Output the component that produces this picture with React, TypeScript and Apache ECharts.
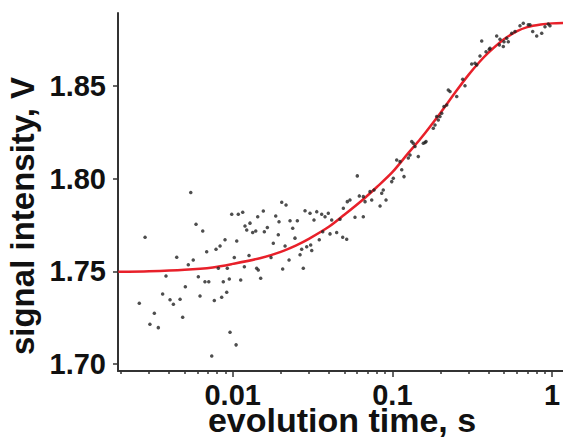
import React, { useEffect, useRef } from "react";
import * as echarts from "echarts";

// evolution time (s) and signal (V) of the measured points
const scatterTime = [
  0.002825, 0.0026, 0.00323, 0.00303, 0.00342, 0.00382, 0.00364, 0.00405, 0.00425, 0.00468,
  0.00486, 0.00446, 0.00505, 0.00527, 0.00566, 0.00546, 0.00589, 0.00649, 0.00609, 0.00624,
  0.0067, 0.00708, 0.00687, 0.00786, 0.00833, 0.00895, 0.00813, 0.00767, 0.00853, 0.00917,
  0.00873, 0.00925, 0.00952, 0.00962, 0.0105, 0.00739, 0.00986, 0.01084, 0.01155, 0.0106,
  0.01023, 0.01122, 0.01183, 0.01194, 0.01224, 0.01283, 0.01334, 0.01394, 0.01265, 0.01413,
  0.01446, 0.01497, 0.01434, 0.01555, 0.01578, 0.01648, 0.01738, 0.01796, 0.0186, 0.0195,
  0.0193, 0.02028, 0.02158, 0.02056, 0.02128, 0.02254, 0.02286, 0.02376, 0.0254, 0.02455,
  0.02641, 0.02704, 0.02768, 0.02838, 0.0305, 0.03079, 0.03126, 0.03229, 0.0336, 0.03485,
  0.03609, 0.03787, 0.0397, 0.04069, 0.04169, 0.04479, 0.04699, 0.04887, 0.05177, 0.05222,
  0.05426, 0.05834, 0.06032, 0.06209, 0.02907, 0.03664, 0.04932, 0.06577, 0.06745, 0.07244,
  0.07426, 0.07674, 0.08375, 0.08576, 0.09125, 0.1014, 0.0991, 0.1065, 0.1117, 0.1183,
  0.1145, 0.129, 0.1353, 0.1454, 0.1386, 0.1563, 0.1625, 0.1805, 0.185, 0.1988,
  0.2038, 0.2106, 0.219, 0.194, 0.2241, 0.253, 0.2851, 0.2758, 0.3141, 0.3374,
  0.354, 0.3861, 0.4048, 0.3628, 0.4503, 0.4723, 0.5003, 0.5203, 0.468, 0.5594,
  0.5863, 0.6302, 0.661, 0.7103, 0.757, 0.8021, 0.8621, 0.904, 0.948, 0.971,
  0.1259, 0.1322, 0.1602, 0.0877, 0.0658, 0.1896, 0.2297, 0.4955, 0.5324, 0.728,
  0.409, 0.3294,
];
const scatterSignal = [
  1.7684, 1.7328, 1.7274, 1.7214, 1.7196, 1.7475, 1.7378, 1.7346, 1.7322, 1.7349,
  1.7252, 1.7576, 1.7417, 1.7535, 1.7561, 1.7925, 1.7754, 1.7718, 1.7471, 1.7367,
  1.7444, 1.7444, 1.7606, 1.7619, 1.7637, 1.767, 1.7517, 1.7342, 1.736, 1.7387,
  1.7444, 1.7517, 1.7459, 1.7171, 1.7103, 1.7043, 1.7808, 1.7808, 1.7819, 1.7664,
  1.7574, 1.7453, 1.7525, 1.7745, 1.7723, 1.776, 1.7709, 1.7718, 1.7585, 1.7517,
  1.7507, 1.7463, 1.7795, 1.7826, 1.7714, 1.7736, 1.7574, 1.7651, 1.7799, 1.7768,
  1.7697, 1.7873, 1.7858, 1.7513, 1.7637, 1.7561, 1.7773, 1.7732, 1.7773, 1.7679,
  1.7589, 1.7619, 1.7517, 1.7827, 1.7813, 1.7642, 1.7612, 1.7777, 1.7822, 1.767,
  1.7808, 1.7795, 1.7813, 1.7702, 1.7777, 1.7709, 1.7781, 1.7684, 1.7673, 1.7876,
  1.7885, 1.7792, 1.8015, 1.7907, 1.7633, 1.7714, 1.784, 1.7795, 1.7876, 1.793,
  1.7885, 1.7939, 1.7853, 1.7921, 1.7885, 1.8002, 1.7984, 1.8101, 1.8092, 1.8011,
  1.8048, 1.8128, 1.8191, 1.8119, 1.8173, 1.8191, 1.82, 1.8272, 1.829, 1.8335,
  1.8353, 1.8389, 1.8398, 1.8317, 1.8479, 1.8443, 1.8501, 1.8537, 1.8619, 1.8614,
  1.8662, 1.8685, 1.8698, 1.8743, 1.877, 1.8752, 1.8739, 1.8758, 1.8722, 1.8785,
  1.8794, 1.8825, 1.8839, 1.883, 1.8794, 1.877, 1.8785, 1.882, 1.8835, 1.8825,
  1.8111, 1.82, 1.8195, 1.7939, 1.7903, 1.8335, 1.847, 1.8713, 1.8739, 1.883,
  1.8704, 1.8623,
];

// fitted curve
const fitTime = [
  0.00192, 0.003, 0.005, 0.0075, 0.01, 0.015, 0.02, 0.025, 0.03, 0.04,
  0.05, 0.065, 0.08, 0.1, 0.125, 0.15, 0.2, 0.25, 0.3, 0.35,
  0.4, 0.5, 0.6, 0.7, 0.85, 1.0, 1.172,
];
const fitSignal = [
  1.7497, 1.75, 1.7508, 1.7521, 1.754, 1.7572, 1.7605, 1.764, 1.7675, 1.774,
  1.7805, 1.7885, 1.7955, 1.8035, 1.8135, 1.8215, 1.8355, 1.847, 1.856, 1.8628,
  1.868, 1.8752, 1.8795, 1.8818, 1.8832, 1.8838, 1.884,
];

const xMajorTicks = [0.01, 0.1, 1];
const xMinorTicks = [
  0.002, 0.003, 0.004, 0.005, 0.006, 0.007, 0.008, 0.009,
  0.02, 0.03, 0.04, 0.05, 0.06, 0.07, 0.08, 0.09,
  0.2, 0.3, 0.4, 0.5, 0.6, 0.7, 0.8, 0.9,
];
const yTicks = [1.7, 1.75, 1.8, 1.85];
const xRange = [0.001912, 1.172];
const yRange = [1.6962, 1.8894];

const xTitle = "evolution time, s";
const yTitle = "signal intensity, V";

export default function App() {
  const ref = useRef<HTMLDivElement>(null);
  useEffect(() => {
    document.body.style.margin = "0";
    const chart = echarts.init(ref.current!, null, { renderer: "svg" });
    const lg = (v: number) => Math.log10(v);
    const font = "'Liberation Sans', Arial, Helvetica, sans-serif";
    const axisColor = "#333";
    const labelStyle = {
      color: "#111",
      fontSize: 29,
      fontWeight: "bold" as const,
      fontFamily: font,
    };
    chart.setOption({
      animation: false,
      backgroundColor: "#ffffff",
      grid: {
        left: 118,
        top: 13,
        right: 0,
        bottom: 68,
        containLabel: false,
        outerBoundsMode: "none",
      },
      xAxis: [
        {
          type: "value",
          min: lg(xRange[0]),
          max: lg(xRange[1]),
          position: "bottom",
          axisLine: { show: true, onZero: false, lineStyle: { color: axisColor, width: 2 } },
          axisTick: {
            show: true,
            customValues: xMajorTicks.map(lg),
            length: 6,
            lineStyle: { color: axisColor, width: 1.5 },
          },
          axisLabel: {
            ...labelStyle,
            customValues: xMajorTicks.map(lg),
            margin: 9,
            formatter: (v: number) => String(Number(Math.pow(10, v).toPrecision(3))),
          },
          splitLine: { show: false },
        },
        {
          type: "value",
          min: lg(xRange[0]),
          max: lg(xRange[1]),
          position: "bottom",
          axisLine: { show: false, onZero: false },
          axisTick: {
            show: true,
            customValues: xMinorTicks.map(lg),
            length: 3,
            lineStyle: { color: axisColor, width: 1.5 },
          },
          axisLabel: { show: false },
          splitLine: { show: false },
        },
      ],
      yAxis: {
        type: "value",
        min: yRange[0],
        max: yRange[1],
        axisLine: { show: true, onZero: false, lineStyle: { color: axisColor, width: 2 } },
        axisTick: {
          show: true,
          customValues: yTicks,
          length: 5,
          lineStyle: { color: axisColor, width: 1.5 },
        },
        axisLabel: {
          ...labelStyle,
          customValues: yTicks,
          margin: 12,
          formatter: (v: number) => v.toFixed(2),
        },
        splitLine: { show: false },
      },
      series: [
        {
          type: "line",
          data: fitTime.map((t, i) => [lg(t), fitSignal[i]]),
          smooth: 0.3,
          showSymbol: false,
          lineStyle: { color: "#e8202a", width: 2.5 },
          z: 2,
        },
        {
          type: "scatter",
          data: scatterTime.map((t, i) => [lg(t), scatterSignal[i]]),
          symbol: "circle",
          symbolSize: 3.5,
          itemStyle: { color: "#222" },
          z: 3,
        },
      ],
      graphic: [
        {
          type: "text",
          x: 342,
          y: 420,
          style: {
            text: xTitle,
            font: `bold 34px ${font}`,
            fill: "#111",
            align: "center",
            verticalAlign: "middle",
          },
        },
        {
          type: "text",
          x: 22,
          y: 216,
          rotation: Math.PI / 2,
          style: {
            text: yTitle,
            font: `bold 33px ${font}`,
            fill: "#111",
            align: "center",
            verticalAlign: "middle",
          },
        },
      ],
    });
    return () => chart.dispose();
  }, []);
  return <div ref={ref} style={{ width: 563, height: 439 }} />;
}
